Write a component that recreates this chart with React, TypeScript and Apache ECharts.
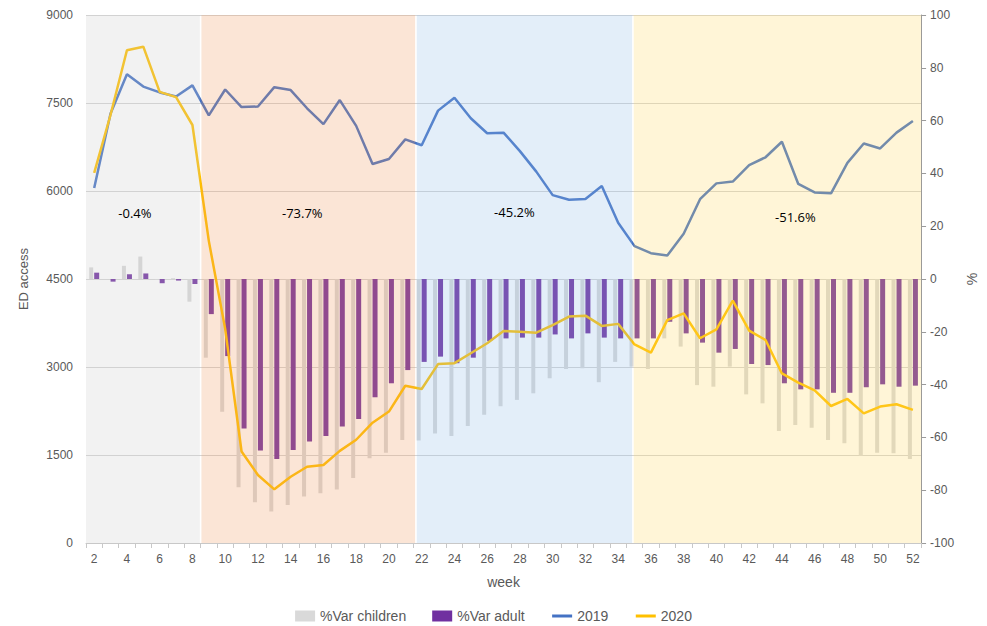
import React, { useEffect, useRef } from "react";
import * as echarts from "echarts";

const weeks = ["2","3","4","5","6","7","8","9","10","11","12","13","14","15","16","17","18","19","20","21","22","23","24","25","26","27","28","29","30","31","32","33","34","35","36","37","38","39","40","41","42","43","44","45","46","47","48","49","50","51","52"];

const ed2019 = [6050, 7320, 7990, 7780, 7680, 7610, 7800, 7290, 7730, 7430, 7440, 7770, 7720, 7410, 7140, 7550, 7110, 6460, 6545, 6880, 6780, 7370, 7590, 7240, 6985, 6995, 6680, 6330, 5930, 5850, 5865, 6085, 5460, 5060, 4940, 4900, 5270, 5860, 6130, 6160, 6440, 6575, 6840, 6120, 5975, 5960, 6480, 6810, 6725, 6995, 7195];

const ed2020 = [6310, 7300, 8400, 8460, 7690, 7600, 7125, 5150, 3650, 1560, 1160, 915, 1130, 1300, 1330, 1570, 1760, 2050, 2240, 2680, 2625, 3050, 3065, 3235, 3405, 3615, 3600, 3585, 3715, 3860, 3875, 3700, 3735, 3385, 3245, 3800, 3915, 3490, 3640, 4130, 3620, 3460, 2890, 2735, 2600, 2335, 2455, 2210, 2325, 2365, 2270];

const varChildren = [4.4, 0, 5.0, 8.5, -0.3, 0.3, -8.6, -29.8, -50.3, -78.9, -84.6, -88.1, -85.6, -82.4, -81.2, -79.7, -75.4, -67.9, -65.8, -61.0, -61.2, -58.5, -59.5, -55.7, -51.4, -48.2, -45.8, -43.3, -37.6, -34.1, -33.8, -39.1, -31.4, -33.2, -34.1, -22.5, -25.6, -40.2, -40.8, -33.2, -43.7, -47.1, -57.6, -55.3, -56.3, -61.0, -62.2, -67.0, -65.8, -66.0, -68.2];

const varAdult = [2.4, -1.0, 1.8, 2.1, -1.6, -0.6, -1.9, -13.3, -29.2, -56.6, -65.0, -68.2, -64.8, -61.6, -59.5, -55.9, -53.0, -44.8, -39.5, -34.5, -31.4, -29.4, -31.9, -29.8, -23.5, -22.5, -22.2, -22.2, -21.0, -22.5, -20.6, -22.2, -22.5, -22.5, -22.5, -16.2, -20.6, -24.1, -27.9, -26.5, -32.2, -32.6, -39.5, -41.8, -41.8, -43.1, -43.1, -41.0, -39.9, -40.8, -40.4];

// Phases (week boundaries on a continuous week scale) and their overall % variation
const phaseStart = [1.5, 8.55, 21.7, 34.95];
const phaseEnd = [8.45, 21.6, 34.85, 52.5];
const phaseLabels = ["-0.4%", "-73.7%", "-45.2%", "-51.6%"];

const phaseColors = [
  "rgba(203,203,203,0.25)",
  "rgba(239,151,91,0.25)",
  "rgba(143,187,231,0.25)",
  "rgba(255,215,95,0.25)",
];
const phaseLabelOffsets = [[-8, -66], [-6, -66], [-10, -67], [18, -62]];

const FONT = "'Liberation Sans', Arial, sans-serif";
const AXIS_TEXT = "#595959";

export default function App() {
  const ref = useRef<HTMLDivElement>(null);

  useEffect(() => {
    document.body.style.margin = "0";
    if (!ref.current) return;
    const chart = echarts.init(ref.current, null, { renderer: "svg" });

    const areas = phaseStart.map((s, i) => [
      {
        xAxis: s,
        itemStyle: { color: phaseColors[i] },
        label: {
          show: true,
          position: "inside",
          formatter: phaseLabels[i],
          offset: phaseLabelOffsets[i],
          color: "#000000",
          fontSize: 13,
          fontFamily: "'Open Sans', 'Noto Sans', sans-serif",
        },
      },
      { xAxis: phaseEnd[i] },
    ]);

    chart.setOption({
      animation: false,
      backgroundColor: "#ffffff",
      textStyle: { fontFamily: FONT },
      grid: { left: 86, right: 64, top: 15, bottom: 83, containLabel: false },
      legend: {
        bottom: 3,
        padding: 0,
        left: "center",
        itemWidth: 20,
        itemHeight: 11,
        itemGap: 26,
        textStyle: { color: AXIS_TEXT, fontSize: 14, fontFamily: FONT },
        data: [
          { name: "%Var children", icon: "rect" },
          { name: "%Var adult", icon: "rect" },
          { name: "2019", itemStyle: { opacity: 0 }, lineStyle: { width: 3 } },
          { name: "2020", itemStyle: { opacity: 0 }, lineStyle: { width: 3 } },
        ],
      },
      xAxis: [
        {
          type: "category",
          data: weeks,
          name: "week",
          nameLocation: "middle",
          nameGap: 32,
          nameTextStyle: { color: AXIS_TEXT, fontSize: 14, fontFamily: FONT },
          axisLine: { show: true, lineStyle: { color: "#c8c8c8", width: 1 } },
          axisTick: { show: true, interval: 0, length: 5, lineStyle: { color: "#c8c8c8" } },
          axisLabel: { interval: 1, color: AXIS_TEXT, fontSize: 12, margin: 10 },
          splitLine: { show: false },
        },
        {
          type: "value",
          min: 1.5,
          max: 52.5,
          show: false,
          splitLine: { show: false },
        },
      ],
      yAxis: [
        {
          type: "value",
          position: "left",
          min: 0,
          max: 9000,
          interval: 1500,
          name: "ED access",
          nameLocation: "middle",
          nameRotate: 90,
          nameGap: 56,
          nameTextStyle: { color: AXIS_TEXT, fontSize: 13, fontFamily: FONT },
          axisLine: { show: false },
          axisTick: { show: false },
          axisLabel: { color: AXIS_TEXT, fontSize: 12, margin: 13, formatter: (v: number) => String(v) },
          splitLine: { show: true, lineStyle: { color: "#d4d4d4", width: 1 } },
        },
        {
          type: "value",
          position: "right",
          min: -100,
          max: 100,
          interval: 20,
          name: "%",
          nameLocation: "middle",
          nameRotate: 90,
          nameGap: 38,
          nameTextStyle: { color: AXIS_TEXT, fontSize: 14, fontFamily: FONT },
          axisLine: { show: true, lineStyle: { color: "#9a9a9a", width: 1 } },
          axisTick: { show: true, inside: false, length: 5, lineStyle: { color: "#9a9a9a" } },
          axisLabel: { color: AXIS_TEXT, fontSize: 12, margin: 9 },
          splitLine: { show: false },
        },
      ],
      series: [
        {
          name: "%Var children",
          type: "bar",
          xAxisIndex: 0,
          yAxisIndex: 1,
          data: varChildren,
          barWidth: 4,
          barGap: "25%",
          itemStyle: { color: "#d9d9d9" },
          z: 2,
        },
        {
          name: "%Var adult",
          type: "bar",
          xAxisIndex: 0,
          yAxisIndex: 1,
          data: varAdult,
          barWidth: 5,
          barGap: "25%",
          itemStyle: { color: "#7030a0" },
          z: 2,
        },
        {
          name: "2019",
          type: "line",
          xAxisIndex: 0,
          yAxisIndex: 0,
          data: ed2019,
          symbol: "none",
          lineStyle: { color: "#4472c4", width: 2.5 },
          itemStyle: { color: "#4472c4" },
          z: 3,
        },
        {
          name: "2020",
          type: "line",
          xAxisIndex: 0,
          yAxisIndex: 0,
          data: ed2020,
          symbol: "none",
          lineStyle: { color: "#ffc000", width: 2.5 },
          itemStyle: { color: "#ffc000" },
          z: 4,
        },
        {
          name: "phases",
          type: "line",
          xAxisIndex: 1,
          yAxisIndex: 0,
          data: [],
          symbol: "none",
          silent: true,
          z: 6,
          markArea: {
            silent: true,
            z: 10,
            data: areas,
          },
        },
      ],
    });

    return () => chart.dispose();
  }, []);

  return <div ref={ref} style={{ width: 987, height: 626 }} />;
}
